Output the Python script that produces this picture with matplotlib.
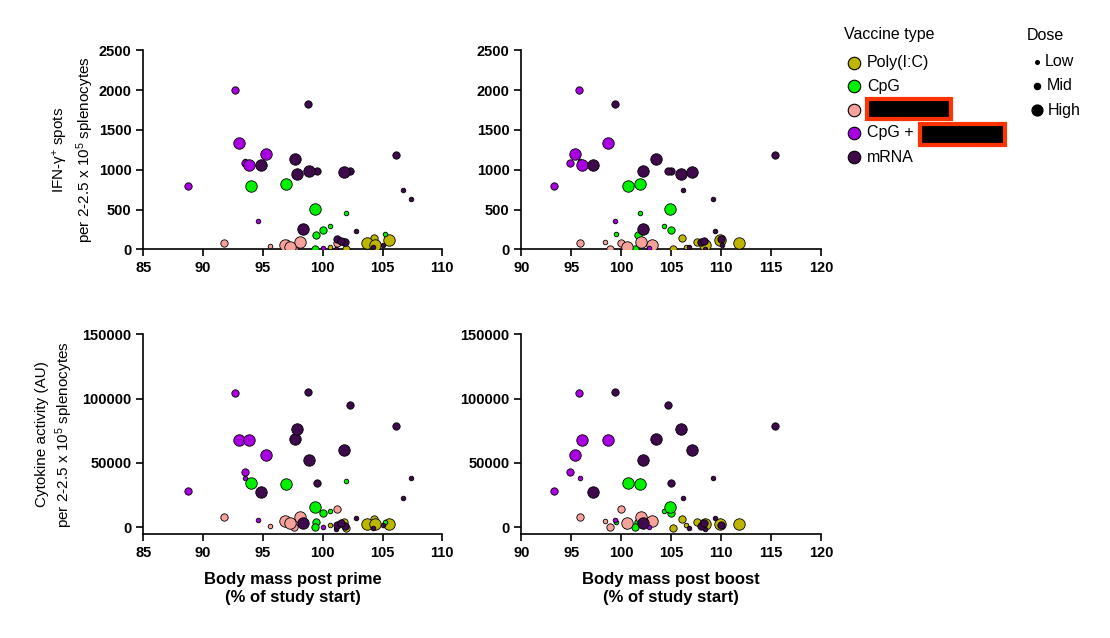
import numpy as np
import matplotlib.pyplot as plt
from matplotlib.patches import Rectangle

plt.rcParams['font.family'] = ['Liberation Sans', 'DejaVu Sans']
plt.rcParams['mathtext.fontset'] = 'custom'
plt.rcParams['mathtext.rm'] = 'Liberation Sans'
plt.rcParams['mathtext.default'] = 'regular'

# one entry per animal
vaccine = (["poly"] * 7 + ["cpg"] * 9 + ["other"] * 8 + ["cpg_other"] * 9 + ["mrna"] * 19)
dose = ["high", "mid", "high", "high", "mid", "low", "mid",
        "high", "high", "high", "low", "low", "mid", "mid", "mid", "low",
        "mid", "mid", "mid", "high", "high", "high", "low", "low",
        "mid", "mid", "high", "high", "high", "mid", "low", "low", "low",
        "mid", "mid", "high", "high", "high", "high", "high", "mid", "mid",
        "low", "low", "high", "low", "mid", "mid", "low", "low", "low", "mid"]
mass_prime = [103.73, 104.26, 104.34, 105.5, 101.95, 100.64, 101.8,
              93.97, 96.9, 99.38, 101.92, 100.6, 99.99, 99.46, 99.38, 105.2,
              91.72, 101.2, 97.6, 96.87, 98.07, 97.3, 95.56, 97.0,
              92.66, 88.73, 93.0, 93.8, 95.28, 93.5, 93.5, 94.59, 100.0,
              98.77, 106.15, 97.71, 97.82, 94.81, 98.88, 101.78, 99.49, 102.3,
              106.74, 107.35, 98.38, 102.78, 101.22, 101.86, 104.17, 105.06, 101.13, 101.5]
mass_boost = [111.82, 106.05, 108.38, 109.85, 105.15, 106.48, 107.55,
              100.64, 101.88, 104.88, 101.91, 104.28, 104.95, 101.65, 101.38, 99.44,
              95.87, 100.0, 98.88, 103.08, 101.95, 100.6, 100.5, 98.34,
              95.74, 93.27, 98.71, 96.1, 95.34, 94.84, 95.9, 99.34, 102.78,
              99.41, 115.36, 103.45, 106.0, 97.14, 102.2, 107.05, 104.98, 104.68,
              106.18, 109.15, 102.2, 109.42, 109.99, 107.95, 106.8, 110.1, 108.4, 108.32]
ifn_spots = [80, 140, 54, 119, 3, 30, 96,
             800, 821, 511, 452, 289, 247, 176, 2, 193,
             75, 80, 10, 59, 86, 34, 42, 96,
             1998, 800, 1336, 1064, 1194, 1085, 1110, 356, 17,
             1830, 1189, 1135, 942, 1060, 980, 967, 984, 988,
             750, 628, 255, 226, 126, 96, 25, 54, 10, 109]
cytokine = [2300, 6800, 2600, 2500, -500, 1550, 4000,
            34200, 33700, 16100, 36300, 12400, 11400, 4100, 0, 4100,
            8300, 14500, 0, 4900, 7800, 3600, 1000, 5200,
            104000, 28000, 67900, 67900, 56200, 43000, 38600, 5700, 0,
            105400, 78500, 68400, 76700, 27700, 52300, 60100, 34700, 95300,
            22500, 38100, 3600, 7300, 1800, 1300, -300, 1800, -1500, 3000]

groups = ["poly", "cpg", "other", "cpg_other", "mrna"]
group_labels = ["Poly(I:C)", "CpG", "", "CpG + ", "mRNA"]
colors = {"poly": "#BDB500", "cpg": "#00F000", "other": "#F7A19C",
          "cpg_other": "#A800E0", "mrna": "#3E0A4C"}
doses = ["low", "mid", "high"]
dose_labels = ["Low", "Mid", "High"]
dose_size = {"low": 11, "mid": 28, "high": 68}

vaccine = np.array(vaccine)
dose = np.array(dose)
mass_prime = np.array(mass_prime)
mass_boost = np.array(mass_boost)
ifn_spots = np.array(ifn_spots)
cytokine = np.array(cytokine)

fig = plt.figure(figsize=(11.1, 6.38), dpi=100)
ax_tl = fig.add_axes([0.1291, 0.6092, 0.2694, 0.3120])
ax_tr = fig.add_axes([0.4696, 0.6092, 0.2700, 0.3120])
ax_bl = fig.add_axes([0.1291, 0.1630, 0.2694, 0.3130])
ax_br = fig.add_axes([0.4696, 0.1630, 0.2700, 0.3130])

panels = [(ax_tl, mass_prime, ifn_spots), (ax_tr, mass_boost, ifn_spots),
          (ax_bl, mass_prime, cytokine), (ax_br, mass_boost, cytokine)]

for ax, xs, ys in panels:
    for g in groups:
        for d in doses:
            m = (vaccine == g) & (dose == d)
            ax.scatter(xs[m], ys[m], s=dose_size[d], c=colors[g],
                       edgecolors="black", linewidths=0.6, zorder=3)
    for side in ["top", "right"]:
        ax.spines[side].set_visible(False)
    ax.spines["left"].set_linewidth(1.2)
    ax.spines["bottom"].set_linewidth(1.2)
    ax.tick_params(direction="out", length=5, width=1.2, labelsize=10.5)

for ax in [ax_tl, ax_bl]:
    ax.set_xlim(85, 110)
    ax.set_xticks(np.arange(85, 111, 5))
for ax in [ax_tr, ax_br]:
    ax.set_xlim(90, 120)
    ax.set_xticks(np.arange(90, 121, 5))
for ax in [ax_tl, ax_tr]:
    ax.set_ylim(0, 2500)
    ax.set_yticks(np.arange(0, 2501, 500))
for ax in [ax_bl, ax_br]:
    ax.set_ylim(-5200, 150000)
    ax.set_yticks(np.arange(0, 150001, 50000))

for ax in [ax_tl, ax_tr, ax_bl, ax_br]:
    for lab in ax.get_xticklabels() + ax.get_yticklabels():
        lab.set_fontweight("bold")

ax_tl.set_ylabel("IFN-γ$^{+}$ spots\nper 2-2.5 x 10$^{5}$ splenocytes",
                 fontsize=11, labelpad=2, linespacing=1.3)
ax_bl.set_ylabel("Cytokine activity (AU)\nper 2-2.5 x 10$^{5}$ splenocytes",
                 fontsize=11, labelpad=5, linespacing=1.3)
ax_bl.set_xlabel("Body mass post prime\n(% of study start)", fontsize=12,
                 fontweight="bold", labelpad=9, linespacing=1.25)
ax_br.set_xlabel("Body mass post boost\n(% of study start)", fontsize=12,
                 fontweight="bold", labelpad=9, linespacing=1.25)

# legend drawn in pixel space
lg = fig.add_axes([0, 0, 1, 1])
lg.set_xlim(0, 1110)
lg.set_ylim(638, 0)
lg.axis("off")

lg.text(844, 35, "Vaccine type", fontsize=11.5, va="center", ha="left")
row_y = [63, 86, 110, 133, 157]
for g, lab, y in zip(groups, group_labels, row_y):
    lg.plot(854, y, "o", ms=9, mfc=colors[g], mec="black", mew=0.8)
    lg.text(867, y, lab, fontsize=11.5, va="center", ha="left")

for x0, y0, w, h in [(867, 99, 84, 20), (920, 124, 85, 21)]:
    lg.add_patch(Rectangle((x0, y0), w, h, facecolor="black",
                           edgecolor="#FF3300", linewidth=3))

lg.text(1027, 35, "Dose", fontsize=11.5, va="center", ha="left")
for lab, y, ms, tx in zip(dose_labels, [62, 86, 110], [2.6, 4.4, 7.8],
                          [1045, 1046.5, 1048]):
    lg.plot(1036.5, y, "o", ms=ms, mfc="black", mec="black")
    lg.text(tx, y, lab, fontsize=11.5, va="center", ha="left")

fig.savefig("out.png", dpi=100)
